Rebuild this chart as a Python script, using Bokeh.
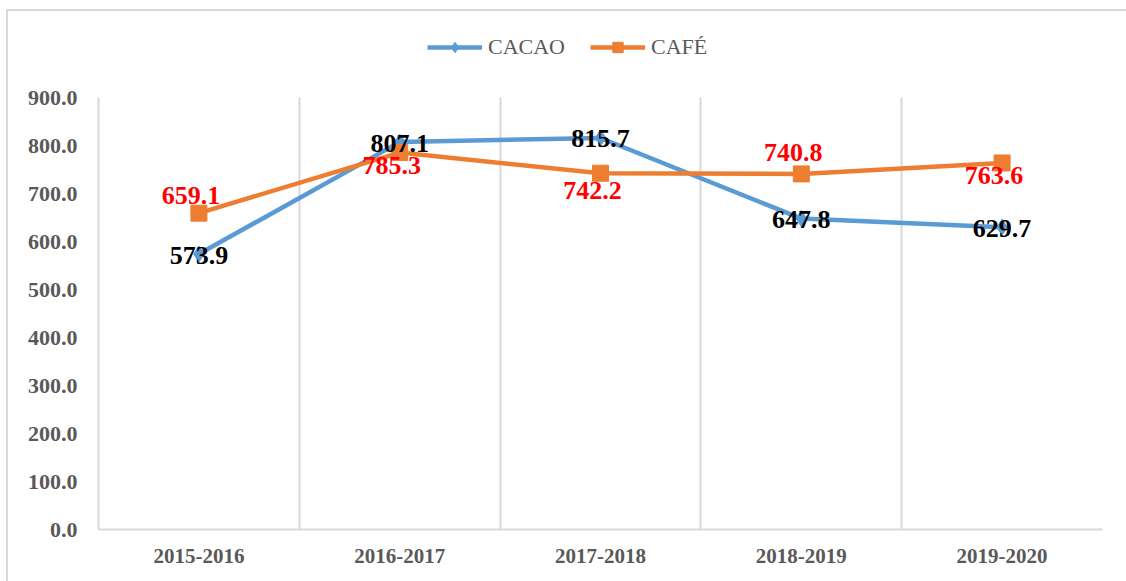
from bokeh.plotting import figure
from bokeh.models import (ColumnDataSource, FixedTicker, Legend, LegendItem, Range1d,
                          PrintfTickFormatter)
from bokeh.core.properties import value
from bokeh.embed import file_html
from bokeh.resources import INLINE

# ---- data ----
seasons = ["2015-2016", "2016-2017", "2017-2018", "2018-2019", "2019-2020"]
cacao = [573.9, 807.1, 815.7, 647.8, 629.7]
cafe = [659.1, 785.3, 742.2, 740.8, 763.6]
y_ticks = [0, 100, 200, 300, 400, 500, 600, 700, 800, 900]

# ---- styling ----
BLUE = "#5B9BD5"
ORANGE = "#ED7D31"
GRAY = "#595959"
GRID = "#D9D9D9"
FONT = "Liberation Serif"

Y_MAX = y_ticks[-1]
PLOT_PX = 432          # pixel height of the 0..900 value band
HEADROOM_PX = 84       # space above the band for the legend
FRAME_H = PLOT_PX + HEADROOM_PX
y_end = Y_MAX + HEADROOM_PX * Y_MAX / PLOT_PX

xs = [i + 0.5 for i in range(len(seasons))]

src = ColumnDataSource(dict(
    x=xs, cacao=cacao, cafe=cafe,
    cacao_lbl=[f"{v:.1f}" for v in cacao],
    cafe_lbl=[f"{v:.1f}" for v in cafe],
    cafe_dy=[-18, 13, 17, -21, 13],
))

p = figure(frame_width=1004, frame_height=FRAME_H, output_backend="svg", toolbar_location=None,
           x_range=Range1d(0, len(seasons)), y_range=Range1d(0, y_end),
           min_border_left=90, min_border_right=24, min_border_top=2, min_border_bottom=52,
           margin=(9, 0, 0, 6))
p.styles = {"border-left": f"2px solid {GRID}", "border-top": f"2px solid {GRID}"}
p.outline_line_color = None
p.background_fill_color = "white"
p.border_fill_color = "white"

# axes
p.xaxis.ticker = FixedTicker(ticks=xs)
p.xaxis.major_label_overrides = {x: s for x, s in zip(xs, seasons)}
p.xaxis.major_tick_line_color = None
p.xaxis.minor_tick_line_color = None
p.xaxis.axis_line_color = GRID
p.xaxis.axis_line_width = 2
p.xaxis.major_label_text_font = FONT
p.xaxis.major_label_text_font_style = "bold"
p.xaxis.major_label_text_font_size = "21px"
p.xaxis.major_label_text_color = GRAY
p.xaxis.major_label_standoff = 13

p.yaxis.ticker = FixedTicker(ticks=y_ticks)
p.yaxis.formatter = PrintfTickFormatter(format="%.1f")
p.yaxis.bounds = (0, Y_MAX)
p.yaxis.major_tick_line_color = None
p.yaxis.minor_tick_line_color = None
p.yaxis.axis_line_color = GRID
p.yaxis.axis_line_width = 2
p.yaxis.major_label_text_font = FONT
p.yaxis.major_label_text_font_style = "bold"
p.yaxis.major_label_text_font_size = "22px"
p.yaxis.major_label_text_color = GRAY
p.yaxis.major_label_standoff = 15

p.ygrid.grid_line_color = None
bounds_x = list(range(1, len(seasons) + 1))
if "cross_bounds" in p.xgrid.properties():
    p.xgrid.ticker = FixedTicker(ticks=bounds_x)
    p.xgrid.grid_line_color = GRID
    p.xgrid.grid_line_width = 2
    p.xgrid.cross_bounds = (0, Y_MAX)
else:
    p.xgrid.grid_line_color = None
    p.segment(x0=bounds_x, y0=[0] * len(bounds_x), x1=bounds_x, y1=[Y_MAX] * len(bounds_x),
              line_color=GRID, line_width=2)

# series
l1 = p.line("x", "cacao", source=src, line_color=BLUE, line_width=4.5)
m1 = p.scatter("x", "cacao", source=src, marker="diamond", size=16, color=BLUE)
l2 = p.line("x", "cafe", source=src, line_color=ORANGE, line_width=4.5)
m2 = p.scatter("x", "cafe", source=src, marker="square", size=16, color=ORANGE)

# data labels
p.text("x", "cacao", text="cacao_lbl", source=src, text_font=value(FONT),
       text_font_style="bold", text_font_size="26px", text_color="black",
       text_align="center", text_baseline="middle", y_offset=1)
p.text("x", "cafe", text="cafe_lbl", source=src, text_font=value(FONT),
       text_font_style="bold", text_font_size="26px", text_color="#FF0000",
       text_align="center", text_baseline="middle", x_offset=-8,
       y_offset="cafe_dy")

legend = Legend(items=[LegendItem(label="CACAO", renderers=[l1, m1]),
                       LegendItem(label="CAFÉ", renderers=[l2, m2])],
                orientation="horizontal", location=(329, FRAME_H - 47),
                label_text_font=FONT, label_text_font_size="22px", label_text_color=GRAY,
                glyph_width=55, glyph_height=26, spacing=25, border_line_color=None,
                background_fill_alpha=0, label_standoff=6, margin=0, padding=0)
p.add_layout(legend, "center")

open("out.html", "w").write(file_html(p, INLINE))
